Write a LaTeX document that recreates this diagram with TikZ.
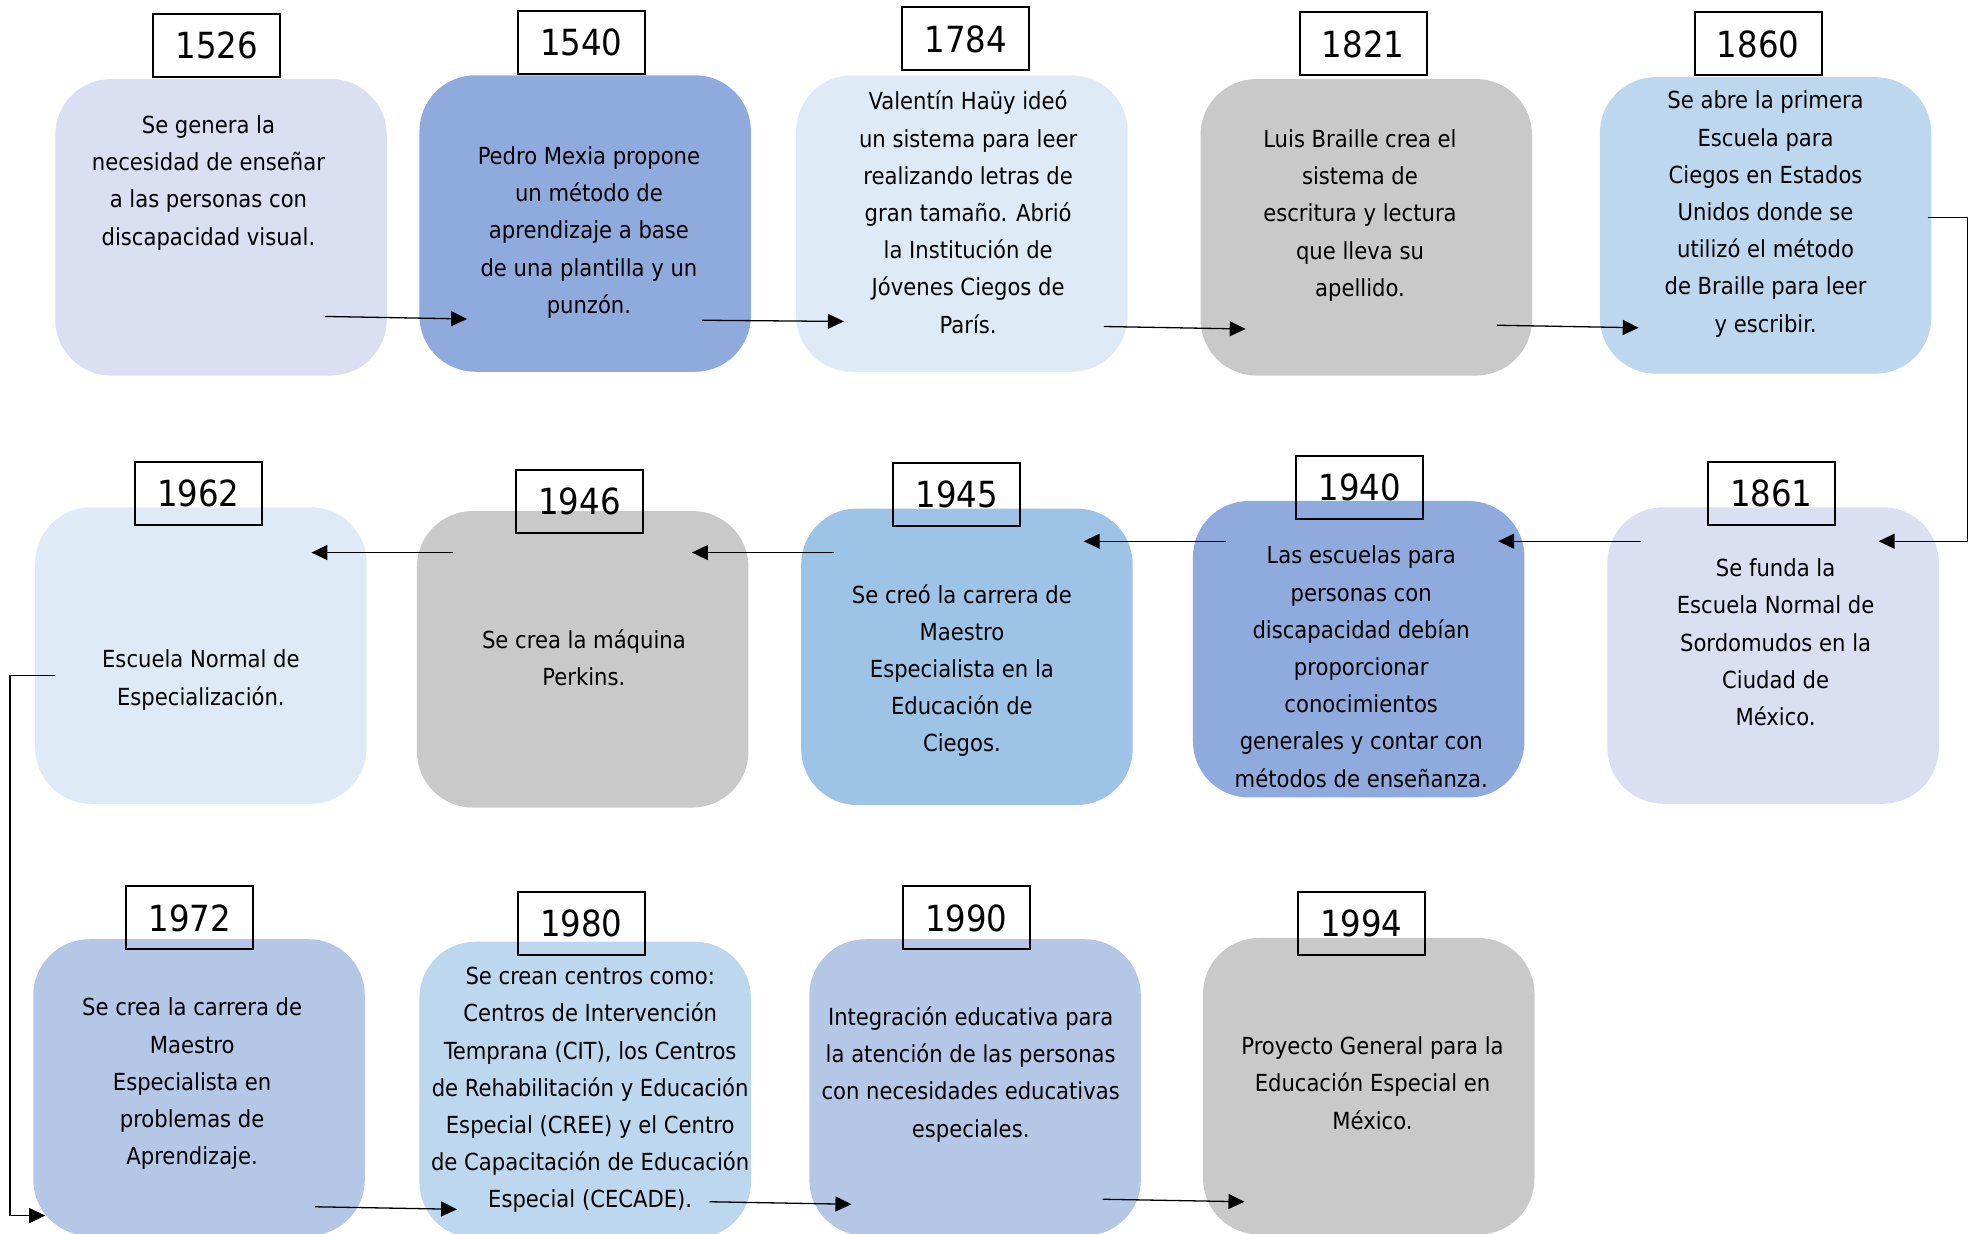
\documentclass[tikz,border=0pt]{standalone}
\usepackage{fontspec}
\setmainfont{DejaVu Sans Condensed}
\usetikzlibrary{arrows.meta}
\definecolor{lila}{HTML}{DAE0F2}
\definecolor{azulm}{HTML}{8FAADC}
\definecolor{celeste}{HTML}{DEEBF7}
\definecolor{gris}{HTML}{C9C9C9}
\definecolor{azulc}{HTML}{BDD7EE}
\definecolor{azulb}{HTML}{9DC3E6}
\definecolor{azulp}{HTML}{B4C7E7}

\begin{document}
\begin{tikzpicture}[x=1.2557pt,y=-1.2557pt,every node/.style={inner sep=0},
  caja/.style={rounded corners=56pt,minimum width=331.5pt,minimum height=296.5pt},
  anio/.style={draw,line width=2pt,minimum width=127pt,minimum height=63pt,font=\fontsize{36}{36}\selectfont},
  texto/.style={align=center,font=\fontsize{23.5}{37.2}\selectfont},
  flecha/.style={line width=1.3pt,-{Triangle[length=16pt,width=15pt]}}]
\useasboundingbox (0,0) rectangle (1568,982);
\clip (0,0) rectangle (1568,982);

\node[caja,fill=lila] (b1526) at (176,181) {};
\node[caja,fill=azulm] (b1540) at (466,178) {};
\node[caja,fill=celeste] (b1784) at (766,178) {};
\node[caja,fill=gris] (b1821) at (1088,181) {};
\node[caja,fill=azulc] (b1860) at (1406,179.5) {};
\node[caja,fill=lila] (b1861) at (1412,522) {};
\node[caja,fill=azulm] (b1940) at (1082,517) {};
\node[caja,fill=azulb] (b1945) at (770,523) {};
\node[caja,fill=gris] (b1946) at (464,525) {};
\node[caja,fill=celeste] (b1962) at (160,522) {};
\node[caja,fill=azulp] (b1972) at (158.5,866) {};
\node[caja,fill=azulc] (b1980) at (466,868) {};
\node[caja,fill=azulp] (b1990) at (776.5,866) {};
\node[caja,fill=gris] (b1994) at (1090,865) {};

\node[anio] (y1526) at (172.5,36.5) {1526};
\node[anio] (y1540) at (463,34) {1540};
\node[anio] (y1784) at (769,31) {1784};
\node[anio] (y1821) at (1085.5,35) {1821};
\node[anio] (y1860) at (1400,35) {1860};
\node[anio] (y1861) at (1410.5,393) {1861};
\node[anio] (y1940) at (1083,388.5) {1940};
\node[anio] (y1945) at (762,394) {1945};
\node[anio] (y1946) at (461.5,399.5) {1946};
\node[anio] (y1962) at (158,393) {1962};
\node[anio] (y1972) at (151,731) {1972};
\node[anio] (y1980) at (463,735.5) {1980};
\node[anio] (y1990) at (769.5,731) {1990};
\node[anio] (y1994) at (1084,735.5) {1994};

\node[texto] (t1526) at (166,145.5) {Se genera la\\necesidad de enseñar\\a las personas con\\discapacidad visual.};
\node[texto] (t1540) at (469,185) {Pedro Mexia propone\\un método de\\aprendizaje a base\\de una plantilla y un\\punzón.};
\node[texto] (t1784) at (771,169) {Valentín Haüy ideó\\un sistema para leer\\realizando letras de\\gran tamaño. Abrió\\la Institución de\\Jóvenes Ciegos de\\París.};
\node[texto] (t1821) at (1083,171.5) {Luis Braille crea el\\sistema de\\escritura y lectura\\que lleva su\\apellido.};
\node[texto] (t1860) at (1406,170.5) {Se abre la primera\\Escuela para\\Ciegos en Estados\\Unidos donde se\\utilizó el método\\de Braille para leer\\y escribir.};
\node[texto] (t1861) at (1414,511.5) {Se funda la\\Escuela Normal de\\Sordomudos en la\\Ciudad de\\México.};
\node[texto] (t1940) at (1084,531) {Las escuelas para\\personas con\\discapacidad debían\\proporcionar\\conocimientos\\generales y contar con\\métodos de enseñanza.};
\node[texto] (t1945) at (766,534) {Se creó la carrera de\\Maestro\\Especialista en la\\Educación de\\Ciegos.};
\node[texto] (t1946) at (465,523.5) {Se crea la máquina\\Perkins.};
\node[texto] (t1962) at (160,541.5) {Escuela Normal de\\Especialización.};
\node[texto] (t1972) at (153,863) {Se crea la carrera de\\Maestro\\Especialista en\\problemas de\\Aprendizaje.};
\node[texto] (t1980) at (470,868) {Se crean centros como:\\Centros de Intervención\\Temprana (CIT), los Centros\\de Rehabilitación y Educación\\Especial (CREE) y el Centro\\de Capacitación de Educación\\Especial (CECADE).};
\node[texto] (t1990) at (773,855.5) {Integración educativa para\\la atención de las personas\\con necesidades educativas\\especiales.};
\node[texto] (t1994) at (1093,862.5) {Proyecto General para la\\Educación Especial en\\México.};

\draw[flecha] ([shift={(83,71)}]b1526.center) -- ([shift={(-94,76)}]b1540.center);
\draw[flecha] ([shift={(93,77)}]b1540.center) -- ([shift={(-94,78)}]b1784.center);
\draw[flecha] ([shift={(113,82)}]b1784.center) -- ([shift={(-96,81)}]b1821.center);
\draw[flecha] ([shift={(104,78)}]b1821.center) -- ([shift={(-101,81.5)}]b1860.center);
\draw[flecha] ([shift={(129,-6.5)}]b1860.center) -- ++(32,0) |- ([shift={(84,-91)}]b1861.center);
\draw[flecha] ([shift={(-105,-91)}]b1861.center) -- ([shift={(111,-86)}]b1940.center);
\draw[flecha] ([shift={(-106,-86)}]b1940.center) -- ([shift={(93,-92)}]b1945.center);
\draw[flecha] ([shift={(-106,-83)}]b1945.center) -- ([shift={(87,-85)}]b1946.center);
\draw[flecha] ([shift={(-103,-85)}]b1946.center) -- ([shift={(88,-82)}]b1962.center);
\draw[flecha] ([shift={(-116,16)}]b1962.center) -- ++(-36,0) |- ([shift={(-122.5,102)}]b1972.center);
\draw[flecha] ([shift={(92.5,95)}]b1972.center) -- ([shift={(-102,95)}]b1980.center);
\draw[flecha] ([shift={(99,89)}]b1980.center) -- ([shift={(-98.5,93)}]b1990.center);
\draw[flecha] ([shift={(101.5,89)}]b1990.center) -- ([shift={(-99,92)}]b1994.center);
\end{tikzpicture}
\end{document}
